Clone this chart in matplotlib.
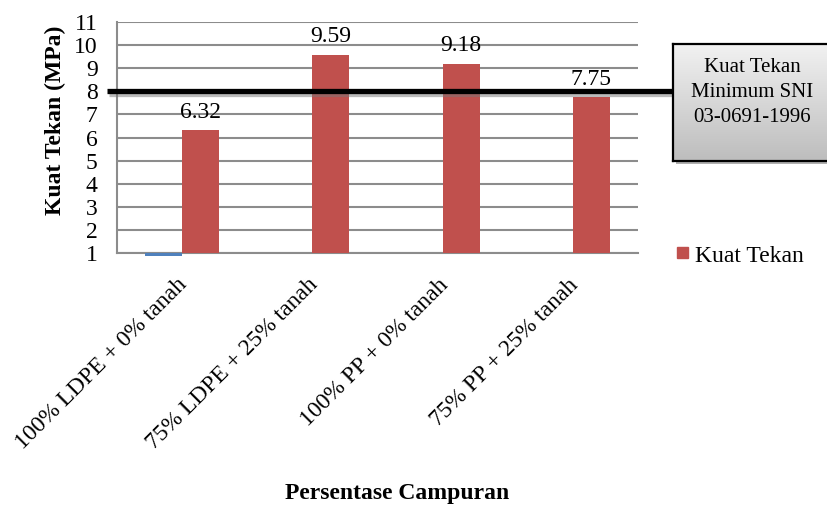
import numpy as np
import matplotlib
matplotlib.use("Agg")
import matplotlib.pyplot as plt
import matplotlib.patheffects as pe
from matplotlib.transforms import blended_transform_factory, offset_copy

plt.rcParams['font.family'] = ['Liberation Serif', 'DejaVu Serif']

categories = ["100% LDPE + 0% tanah", "75% LDPE + 25% tanah",
              "100% PP + 0% tanah", "75% PP + 25% tanah"]
kuat_tekan = [6.32, 9.59, 9.18, 7.75]
seri_biru = [0.88, np.nan, np.nan, np.nan]
batas_sni = 8.0
yticks = list(range(1, 12))

RED = "#c0504d"
BLUE = "#4f81bd"
GRID = "#8c8c8c"
FS = 17
FS_BOX = 15

fig = plt.figure(figsize=(8.28, 5.07), dpi=100)
W, H = 828, 507
ax = fig.add_axes([117 / W, 1 - 253 / H, (638 - 117) / W, (253 - 22) / H])

x = np.arange(len(categories))
bw = 0.285
base = 1.0
ax.bar(x - bw / 2, np.array(seri_biru) - base, bottom=base, width=bw,
       color=BLUE, clip_on=False, zorder=3)
bars = ax.bar(x + bw / 2, np.array(kuat_tekan) - base, bottom=base, width=bw,
              color=RED, zorder=3, label="Kuat Tekan")

for xi, v in zip(x, kuat_tekan):
    ax.annotate(f"{v:.2f}", (xi + bw / 2, v), xytext=(0, 13),
                textcoords="offset points", ha="center", va="center",
                fontsize=FS, zorder=5)

ax.set_xlim(-0.5, len(categories) - 0.5)
ax.set_ylim(1, 11)
ax.set_yticks(yticks)
ax.set_yticklabels([str(t) for t in yticks], fontsize=FS)
ax.yaxis.grid(True, color=GRID, linewidth=1.5, zorder=0)
ax.set_axisbelow(True)
ax.tick_params(axis="y", length=0, pad=14)
ax.tick_params(axis="x", length=0)
ax.set_xticks(x)
ax.set_xticklabels(categories, fontsize=FS, rotation=45, ha="right",
                   va="center", rotation_mode="anchor")
for lbl in ax.get_xticklabels():
    lbl.set_transform(offset_copy(lbl.get_transform(), fig=fig, x=2, y=-24, units="dots"))
for s in ["top", "right"]:
    ax.spines[s].set_visible(False)
for s in ["left", "bottom"]:
    ax.spines[s].set_color(GRID)
    ax.spines[s].set_linewidth(1.5)

# minimum strength reference line
trans = blended_transform_factory(fig.transFigure, ax.transData)
ax.plot([107 / W, 673 / W], [batas_sni, batas_sni], transform=trans,
        color="black", linewidth=3.8, clip_on=False, zorder=6,
        solid_capstyle="butt",
        path_effects=[pe.SimpleLineShadow(offset=(1.5, -2), shadow_color="#777777", alpha=0.5),
                      pe.Normal()])

# callout box with vertical gradient
bx0, bx1, by0, by1 = 673, 830, 44, 161
shadow = fig.add_axes([(bx0 + 3) / W, 1 - (by1 + 3) / H, (bx1 - bx0) / W, (by1 - by0) / H])
shadow.set_facecolor("#b0b0b0")
shadow.set_xticks([]); shadow.set_yticks([])
for s in shadow.spines.values():
    s.set_visible(False)
box = fig.add_axes([bx0 / W, 1 - by1 / H, (bx1 - bx0) / W, (by1 - by0) / H])
grad = np.linspace(0, 1, 256).reshape(-1, 1)
box.imshow(grad, aspect="auto", cmap=matplotlib.colors.LinearSegmentedColormap.from_list(
    "g", ["#f2f2f2", "#bdbdbd"]), extent=[0, 1, 0, 1], origin="upper")
box.set_xticks([]); box.set_yticks([])
for s in box.spines.values():
    s.set_color("black"); s.set_linewidth(1.6)
for i, t in enumerate(["Kuat Tekan", "Minimum SNI", "03-0691-1996"]):
    fig.text(752 / W, 1 - (68 + 24.5 * i) / H, t, ha="center", va="center", fontsize=FS_BOX)

# legend
fig.patches.append(matplotlib.patches.Rectangle((677 / W, 1 - 258 / H), 11 / W, 11 / H,
                                                transform=fig.transFigure, color=RED))
fig.text(695 / W, 1 - 256 / H, "Kuat Tekan", ha="left", va="center", fontsize=FS)

fig.text(55 / W, 1 - 120 / H, "Kuat Tekan (MPa)", rotation=90, ha="center", va="center",
         fontsize=FS, fontweight="bold")
fig.text(397 / W, 1 - 493 / H, "Persentase Campuran", ha="center", va="center",
         fontsize=FS, fontweight="bold")

fig.savefig("out.png", dpi=100)
